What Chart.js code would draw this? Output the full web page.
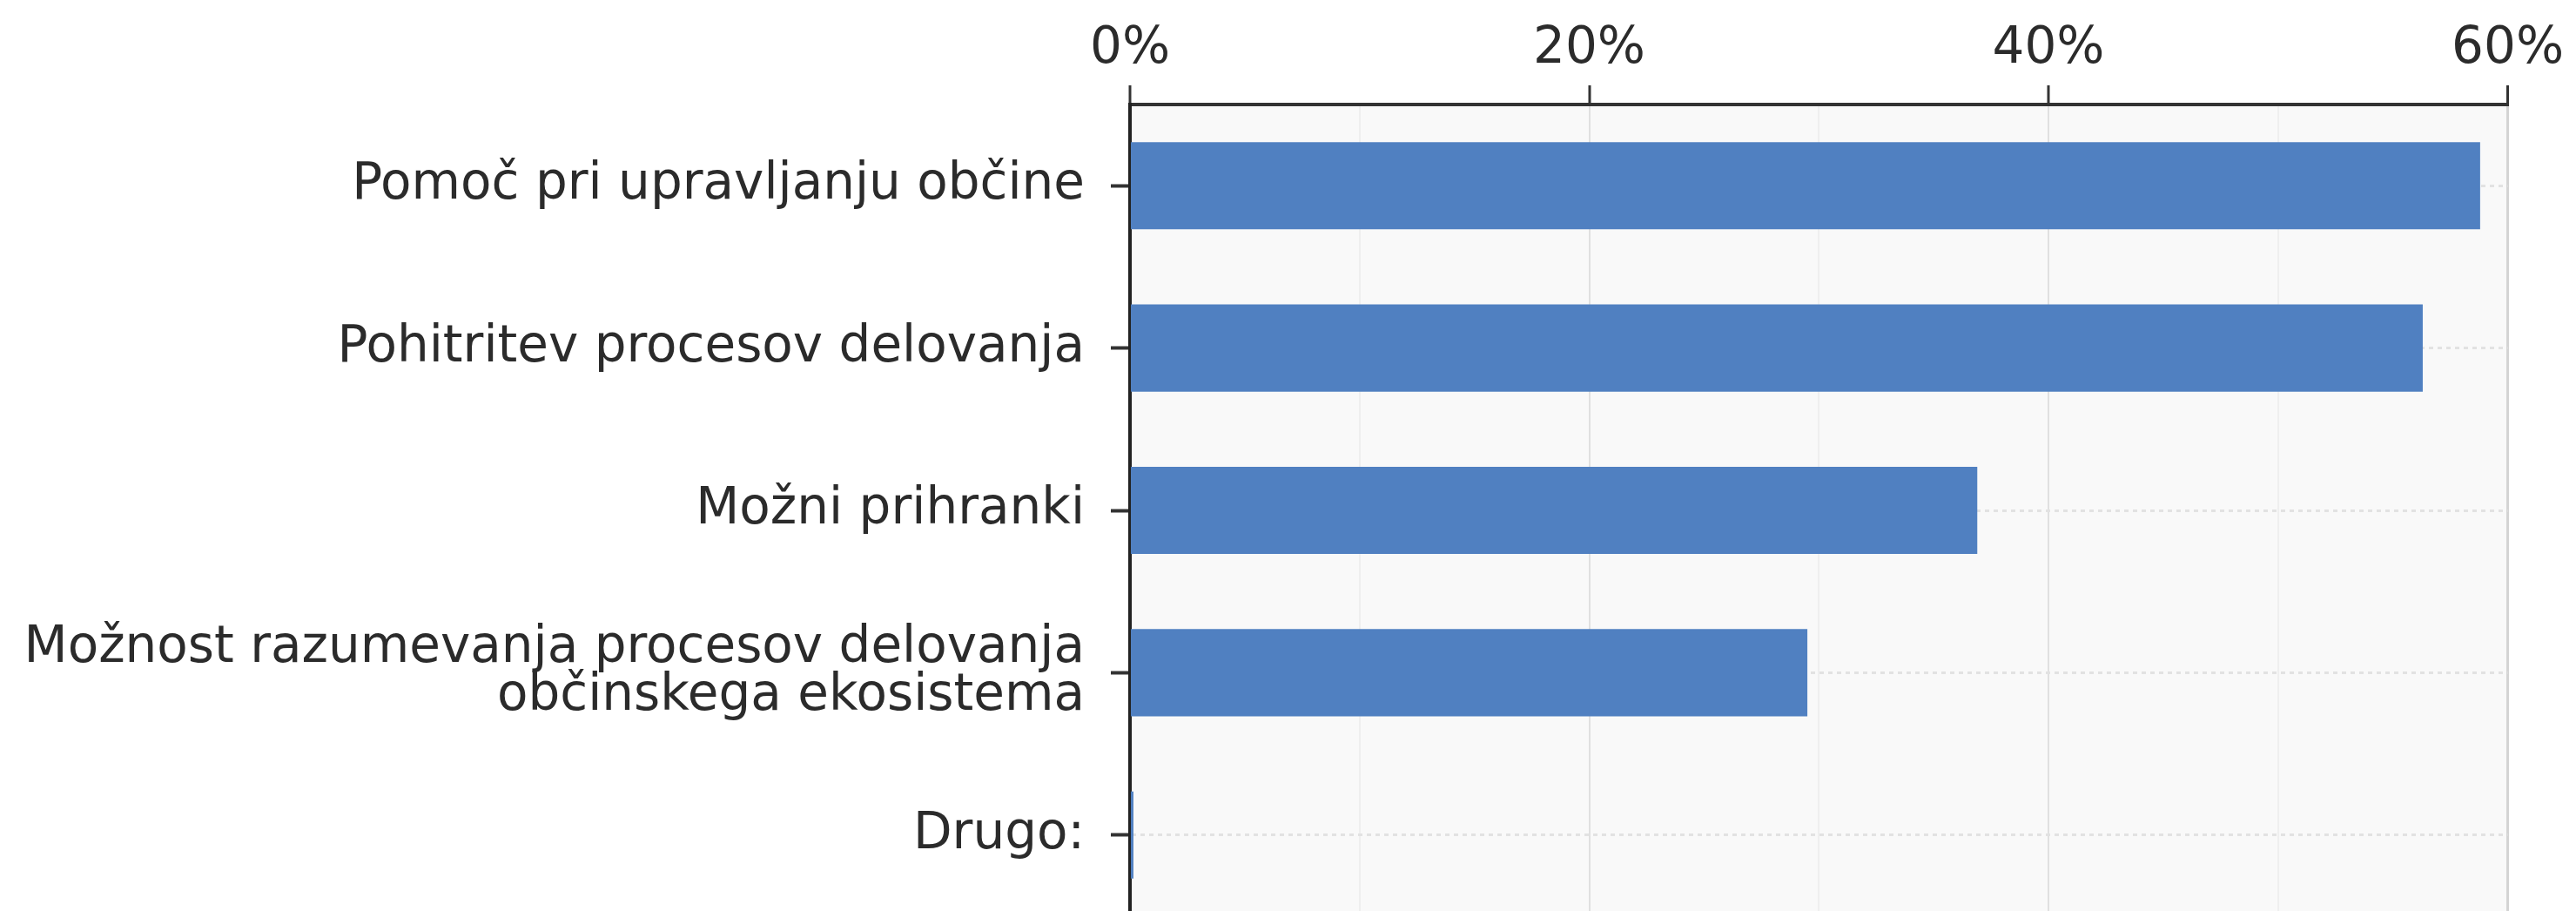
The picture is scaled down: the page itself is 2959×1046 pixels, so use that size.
<!DOCTYPE html>
<html>
<head>
<meta charset="utf-8">
<script src="https://cdn.jsdelivr.net/npm/chart.js@4/dist/chart.umd.min.js"></script>
<style>
  html, body { margin: 0; padding: 0; background: #fff; overflow: hidden; }
  #wrap { width: 2959px; height: 1052px; position: relative; }
</style>
</head>
<body>
<div id="wrap"><canvas id="chart"></canvas></div>
<script>
// data
const categories = [
  "Pomoč pri upravljanju občine",
  "Pohitritev procesov delovanja",
  "Možni prihranki",
  ["Možnost razumevanja procesov delovanja", "občinskega ekosistema"],
  "Drugo:",
];
const shares = [58.8, 56.3, 36.9, 29.5, 0.15]; // percent
const axisMin = 0;
const axisMax = 60;

const textColor = "#2b2b2b";
const font = { family: "'DejaVu Sans', Verdana, sans-serif", size: 58, lineHeight: 0.95 };

// light grey plot background
const plotBg = {
  id: "plotBg",
  beforeDraw(chart) {
    const a = chart.chartArea;
    const ctx = chart.ctx;
    ctx.save();
    ctx.fillStyle = "#f9f9f9";
    ctx.fillRect(a.left, a.top, a.right - a.left, a.bottom - a.top);
    ctx.restore();
  },
};

const ctx = document.getElementById("chart").getContext("2d");
const chart = new Chart(ctx, {
  type: "bar",
  data: {
    labels: categories,
    datasets: [
      {
        data: shares,
        backgroundColor: "#5080c1",
        barPercentage: 0.537,
        categoryPercentage: 1,
      },
    ],
  },
  options: {
    indexAxis: "y",
    responsive: true,
    maintainAspectRatio: false,
    animation: false,
    layout: { padding: { left: 0, right: 76, top: 0, bottom: 0 } },
    plugins: { legend: { display: false }, tooltip: { enabled: false } },
    scales: {
      x: {
        position: "top",
        min: axisMin,
        max: axisMax,
        afterFit: (s) => { s.height = 120; },
        ticks: {
          stepSize: 10,
          autoSkip: false,
          maxRotation: 0,
          padding: 14,
          color: textColor,
          font: font,
          callback: (v) => (v % 20 === 0 ? v + "%" : ""),
        },
        grid: {
          color: (c) => {
            const v = c.tick ? c.tick.value : 0;
            if (v === axisMax) return "#d4d4d4";
            return v % 20 === 0 ? "#e0e0e0" : "#efefef";
          },
          lineWidth: (c) => (c.tick && c.tick.value === axisMax ? 3 : 2),
          tickLength: 22,
          tickWidth: 3,
          tickColor: (c) => (c.tick && c.tick.value % 20 === 0 ? "#333" : "rgba(0,0,0,0)"),
        },
        border: { color: "#333", width: 4 },
      },
      y: {
        afterFit: (s) => {
          s.width = 1298;
          // let the plot run down to the bottom edge like the original
          s.paddingTop = 0;
          s.paddingBottom = 0;
        },
        ticks: { padding: 30, color: textColor, font: font },
        grid: {
          offset: false,
          color: "#e2e2e2",
          lineWidth: 3,
          tickLength: 22,
          tickWidth: 4,
          tickColor: "#333",
        },
        border: { color: "#222", width: 4, dash: [5, 5] },
      },
    },
  },
  plugins: [plotBg],
});
</script>
</body>
</html>
